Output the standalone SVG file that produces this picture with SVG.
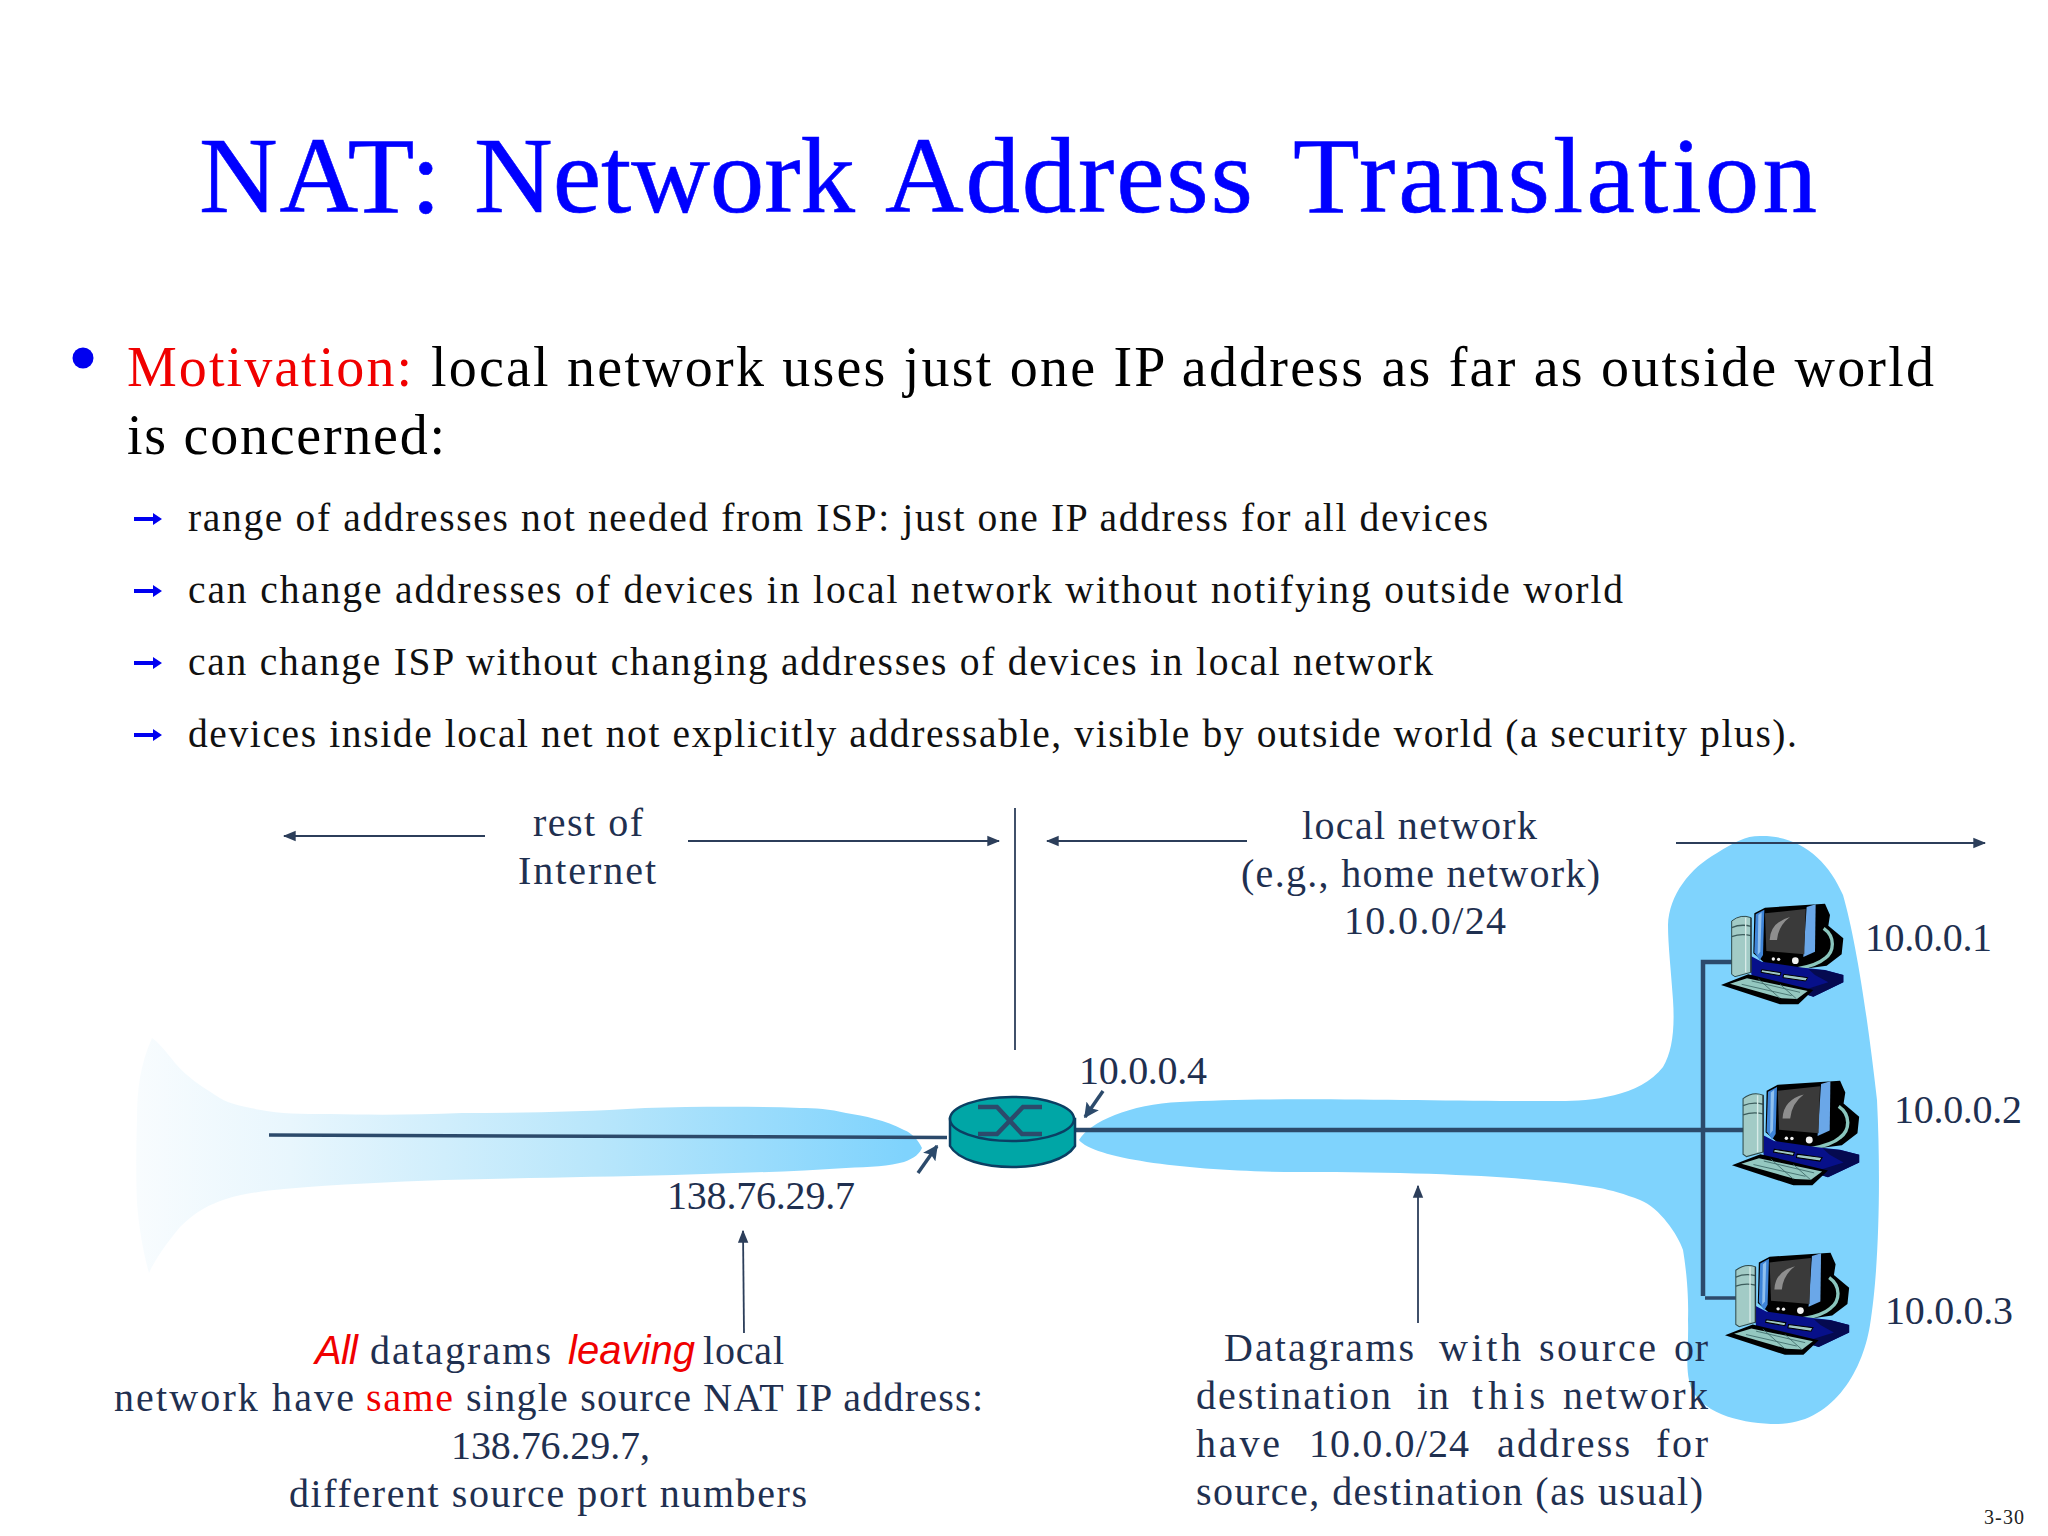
<svg xmlns="http://www.w3.org/2000/svg" width="2048" height="1536" viewBox="0 0 2048 1536">
<style>
text{font-family:"Liberation Serif","Times New Roman",serif}
.title{font-size:109px;fill:#0000ff;stroke:#0000ff;stroke-width:0.6}
.m{font-size:56px;fill:#000}
.s{font-size:39.5px;fill:#111}
.d{font-size:40px;fill:#1f3050}
.i{font-family:"Liberation Sans",Arial,sans-serif;font-style:italic;fill:#f00000}
.r{fill:#f00000}
.w{fill:none;stroke:#2c4a6b;stroke-width:4.5}
.w2{fill:none;stroke:#2c4a6b;stroke-width:3.5}
.thin{fill:none;stroke:#2c3e5a;stroke-width:1.8}
</style>
<defs>
<linearGradient id="fade" gradientUnits="userSpaceOnUse" x1="137" y1="0" x2="905" y2="0">
<stop offset="0" stop-color="#f8fcfe"/><stop offset="0.2" stop-color="#e8f6fd"/><stop offset="0.6" stop-color="#b8e6fb"/><stop offset="1" stop-color="#7fd3fd"/>
</linearGradient>
<marker id="a" viewBox="0 0 10 10" refX="9" refY="5" markerWidth="13" markerHeight="13" markerUnits="userSpaceOnUse" orient="auto"><path d="M0 1L10 5L0 9Z" fill="#2c3e5a"/></marker>
<marker id="b" viewBox="0 0 10 10" refX="9" refY="5" markerWidth="15" markerHeight="15" markerUnits="userSpaceOnUse" orient="auto"><path d="M0 0L10 5L0 10L2 5Z" fill="#2c4a6b"/></marker>
<g id="pc" transform="translate(-7,-9) scale(0.3333)">
<path d="M118 55L150 38L330 26L345 60L340 92L385 130L380 178L335 212L262 222L150 205L115 175Z" fill="#000"/>
<path d="M326 100C362 125 358 170 330 190C310 208 280 216 245 222" fill="none" stroke="#8ac6bd" stroke-width="10"/>
<path d="M102 180L140 200L265 218L330 225L385 240L385 262L295 305L110 245Z" fill="#07108a"/>
<path d="M280 222L330 226L385 240L385 262L295 305L250 290L340 262L300 240Z" fill="#050a50"/>
<path d="M140 224L198 233L195 242L138 232ZM206 238L278 248L272 258L204 248Z" fill="#9fc9c4" stroke="#000" stroke-width="3"/>
<path d="M18 270L100 238L295 285L250 328L195 328Z" fill="#000"/>
<path d="M45 266L96 250L278 288L246 312L200 310Z" fill="#94c8c0"/>
<path d="M80 268L230 302M110 258L255 292M130 252L195 310M195 268L245 312" stroke="#3e6a68" stroke-width="2.500" fill="none"/>
<path d="M50 78Q78 56 108 68V232L60 245L50 238Z" fill="#a2cbc6" stroke="#2e4a4c" stroke-width="3"/>
<path d="M50 98Q78 86 108 94M50 125Q78 115 108 122" fill="none" stroke="#3c5c5c" stroke-width="4"/>
<path d="M92 68V232" stroke="#d8ebe8" stroke-width="4"/>
<path d="M108 68V232" stroke="#26343a" stroke-width="4"/>
<path d="M122 58L148 44L144 180L134 196L118 172Z" fill="#3f85d8"/>
<path d="M130 60L140 52L136 170L128 180Z" fill="#8fc0ee"/>
<path d="M275 36L302 28L300 170L265 186Z" fill="#6aa7e8"/>
<path d="M150 55L272 42L268 178L154 168Z" fill="#3a3a3a"/>
<path d="M164 135Q166 82 225 66Q190 92 186 135Z" fill="#8e8e8e"/>
<path d="M150 172L268 190L260 210L150 198Z" fill="#000"/>
<circle cx="175" cy="192" r="5" fill="#eee"/><circle cx="191" cy="193" r="5" fill="#eee"/><circle cx="241" cy="197" r="10" fill="#f2f2f2"/>
</g>
</defs>
<rect width="2048" height="1536" fill="#fff"/>

<g id="clouds">
<path id="internet-cloud" d="M922 1148C918 1140 912 1133 904 1130C885 1120 865 1116 846 1113C830 1109 815 1108 800 1108C740 1106 690 1107 645 1108C580 1112 520 1113 462 1113C415 1115 370 1115 330 1114C300 1114 280 1114 261 1110C240 1106 228 1104 215 1095C200 1085 188 1078 175 1063C165 1050 158 1042 152 1038C140 1065 137 1090 137 1120C136 1150 136 1180 137 1203C139 1230 144 1255 149 1273C155 1260 165 1245 180 1227C195 1212 210 1204 226 1199C245 1193 265 1191 284 1189C340 1184 390 1182 444 1180C520 1178 600 1177 674 1175C730 1173 790 1172 846 1168C870 1167 890 1166 904 1162C915 1158 920 1153 922 1148Z" fill="url(#fade)"/>
<path id="local-cloud" d="M1079 1140C1090 1122 1130 1104 1180 1102C1280 1096 1450 1102 1560 1101C1590 1101 1640 1097 1663 1067C1672 1052 1675 1030 1673 1000C1671 970 1668 945 1668 925C1669 895 1690 868 1717 853C1735 842 1745 836 1760 836C1800 835 1828 860 1843 895C1856 940 1868 1020 1877 1100C1881 1180 1879 1270 1870 1325C1862 1375 1830 1424 1777 1424C1745 1424 1705 1415 1692 1390C1684 1370 1689 1350 1688 1320C1689 1290 1685 1262 1683 1250C1678 1235 1660 1208 1640 1200C1625 1194 1610 1190 1600 1188C1540 1178 1450 1172 1300 1172C1200 1172 1095 1160 1079 1140Z" fill="#7fd3fd"/>
</g>

<g id="connectors">
<path class="w2" d="M269 1135L947 1137.500"/>
<path class="w" d="M1075 1130H1745"/>
<path class="w" d="M1733 962H1703V1296"/>
<path class="w2" d="M1705 1298H1743"/>
<path class="w2" d="M1103 1091L1085 1117" marker-end="url(#b)"/>
<path class="w2" d="M918 1173L937 1146" marker-end="url(#b)"/>
<path class="thin" d="M485 836H284" marker-end="url(#a)"/>
<path class="thin" d="M688 841H999" marker-end="url(#a)"/>
<path class="thin" d="M1015 808V1050"/>
<path class="thin" d="M1247 841H1047" marker-end="url(#a)"/>
<path class="thin" d="M1676 843H1985" marker-end="url(#a)"/>
<path class="thin" d="M744 1333L743 1231" marker-end="url(#a)"/>
<path class="thin" d="M1418 1323V1186" marker-end="url(#a)"/>
</g>

<g id="router">
<path d="M950 1119V1146C958 1160 985 1167 1012 1167C1040 1167 1066 1160 1075 1146V1119Z" fill="#00a6a6" stroke="#0b3f63" stroke-width="2.500"/>
<ellipse cx="1012" cy="1119" rx="62" ry="22" fill="#00a6a6" stroke="#0b3f63" stroke-width="2.500"/>
<path d="M978 1107H997L1022 1134H1042M1042 1107H1023L997 1134H978" fill="none" stroke="#2c4a6b" stroke-width="4.500"/>
</g>

<use id="host1" href="#pc" transform="translate(1722,904)"/>
<use id="host2" href="#pc" transform="translate(1733,1081) scale(1.04)"/>
<use id="host3" href="#pc" transform="translate(1726,1253) scale(1.015)"/>

<g id="heading">
<text class="title" x="199" y="212" textLength="242">NAT:</text>
<text class="title" x="474" y="212" textLength="381">Network</text>
<text class="title" x="885" y="212" textLength="368">Address</text>
<text class="title" x="1293" y="212" textLength="524">Translation</text>
<circle cx="83" cy="358" r="10.500" fill="#0000f0"/>
<text class="m r" x="127" y="386" textLength="285">Motivation:</text>
<text class="m" x="431" y="386" textLength="1503">local network uses just one IP address as far as outside world</text>
<text class="m" x="127" y="454" textLength="318">is concerned:</text>
</g>

<g id="bullets">
<g fill="#0000f0">
<path d="M134 517H153V513L162 519L153 525V521H134Z"/>
<path d="M134 589H153V585L162 591L153 597V593H134Z"/>
<path d="M134 661H153V657L162 663L153 669V665H134Z"/>
<path d="M134 733H153V729L162 735L153 741V737H134Z"/>
</g>
<text class="s" x="188" y="531" textLength="1300">range of addresses not needed from ISP: just one IP address for all devices</text>
<text class="s" x="188" y="603" textLength="1435">can change addresses of devices in local network without notifying outside world</text>
<text class="s" x="188" y="675" textLength="1245">can change ISP without changing addresses of devices in local network</text>
<text class="s" x="188" y="747" textLength="1609">devices inside local net not explicitly addressable, visible by outside world (a security plus).</text>
</g>

<g id="labels">
<text class="d" x="533" y="836" textLength="110">rest of</text>
<text class="d" x="518" y="884" textLength="138">Internet</text>
<text class="d" x="1302" y="839" textLength="235">local network</text>
<text class="d" x="1241" y="887" textLength="359">(e.g., home network)</text>
<text class="d" x="1344" y="934" textLength="162">10.0.0/24</text>
<text class="d" x="1865" y="951" textLength="127">10.0.0.1</text>
<text class="d" x="1894" y="1123" textLength="128">10.0.0.2</text>
<text class="d" x="1885" y="1324" textLength="128">10.0.0.3</text>
<text class="d" x="1079" y="1084" textLength="128">10.0.0.4</text>
<text class="d" x="667" y="1209" textLength="188">138.76.29.7</text>
</g>

<g id="note-left">
<text class="d i" x="315" y="1364" textLength="43">All</text>
<text class="d" x="370" y="1364" textLength="181">datagrams</text>
<text class="d i" x="568" y="1364" textLength="127">leaving</text>
<text class="d" x="703" y="1364" textLength="81">local</text>
<text class="d" x="114" y="1411" textLength="240">network have</text>
<text class="d r" x="366" y="1411" textLength="87">same</text>
<text class="d" x="466" y="1411" textLength="517">single source NAT IP address:</text>
<text class="d" x="451" y="1459" textLength="199">138.76.29.7,</text>
<text class="d" x="289" y="1507" textLength="518">different source port numbers</text>
</g>

<g id="note-right">
<text class="d" x="1224" y="1361" textLength="190">Datagrams</text>
<text class="d" x="1439" y="1361" textLength="82">with</text>
<text class="d" x="1539" y="1361" textLength="117">source</text>
<text class="d" x="1674" y="1361" textLength="34">or</text>
<text class="d" x="1196" y="1409" textLength="195">destination</text>
<text class="d" x="1417" y="1409" textLength="32">in</text>
<text class="d" x="1472" y="1409" textLength="73">this</text>
<text class="d" x="1563" y="1409" textLength="145">network</text>
<text class="d" x="1196" y="1457" textLength="84">have</text>
<text class="d" x="1309" y="1457" textLength="160">10.0.0/24</text>
<text class="d" x="1497" y="1457" textLength="133">address</text>
<text class="d" x="1656" y="1457" textLength="52">for</text>
<text class="d" x="1196" y="1505" textLength="507">source, destination (as usual)</text>
</g>

<text x="1984" y="1524" font-size="20" fill="#222" textLength="40">3-30</text>
</svg>
